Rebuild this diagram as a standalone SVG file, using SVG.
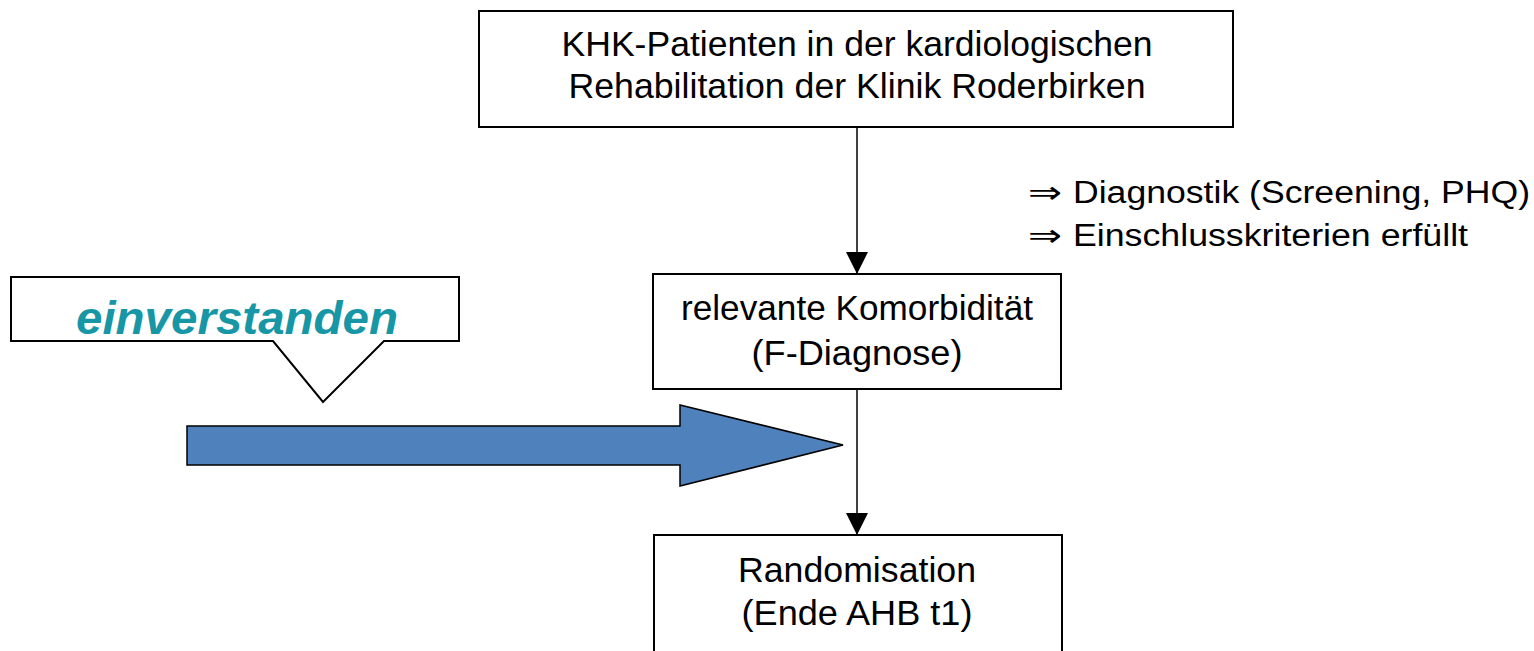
<svg xmlns="http://www.w3.org/2000/svg" width="1534" height="651" viewBox="0 0 1534 651">
<defs>
<style>
.box{fill:#fff;stroke:#000;stroke-width:2}
.t{font-family:"Liberation Sans",Arial,sans-serif;font-size:35px;fill:#000;text-anchor:middle}
.r{font-family:"Liberation Sans",Arial,sans-serif;font-size:31px;fill:#000}
.conn{stroke:#000;stroke-width:1.5;fill:none}
</style>
<marker id="ah" viewBox="0 0 22 24" refX="22" refY="12" markerWidth="22" markerHeight="24" markerUnits="userSpaceOnUse" orient="auto">
<path d="M0,1 L22,12 L0,23 Z" fill="#000"/>
</marker>
</defs>
<rect width="1534" height="651" fill="#fff"/>
<g id="connectors">
<line class="conn" x1="857" y1="127" x2="857" y2="274" marker-end="url(#ah)"/>
<line class="conn" x1="857" y1="389" x2="857" y2="535" marker-end="url(#ah)"/>
</g>
<g id="node-khk">
<rect class="box" x="479" y="11" width="754" height="116"/>
<text class="t" x="857" y="56" textLength="591" lengthAdjust="spacingAndGlyphs">KHK-Patienten in der kardiologischen</text>
<text class="t" x="857" y="98" textLength="577" lengthAdjust="spacingAndGlyphs">Rehabilitation der Klinik Roderbirken</text>
</g>
<g id="label-criteria">
<text class="r" x="1028" y="203" textLength="34" lengthAdjust="spacingAndGlyphs">⇒</text>
<text class="r" x="1073" y="203" textLength="457" lengthAdjust="spacingAndGlyphs">Diagnostik (Screening, PHQ)</text>
<text class="r" x="1028" y="246" textLength="34" lengthAdjust="spacingAndGlyphs">⇒</text>
<text class="r" x="1073" y="246" textLength="395" lengthAdjust="spacingAndGlyphs">Einschlusskriterien erfüllt</text>
</g>
<g id="node-komorb">
<rect class="box" x="653" y="274" width="408" height="115"/>
<text class="t" x="857" y="320" textLength="352" lengthAdjust="spacingAndGlyphs">relevante Komorbidität</text>
<text class="t" x="857" y="365" textLength="211" lengthAdjust="spacingAndGlyphs">(F-Diagnose)</text>
</g>
<g id="node-random">
<rect class="box" x="654" y="535" width="408" height="130"/>
<text class="t" x="857" y="582" textLength="238" lengthAdjust="spacingAndGlyphs">Randomisation</text>
<text class="t" x="857" y="625" textLength="231" lengthAdjust="spacingAndGlyphs">(Ende AHB t1)</text>
</g>
<g id="callout-einverstanden">
<path d="M11,277 L459,277 L459,341 L384,341 L323,402 L273,341 L11,341 Z" fill="#fff" stroke="#000" stroke-width="2"/>
<text x="237" y="334" font-family="Liberation Sans,Arial,sans-serif" font-size="47" font-weight="bold" font-style="italic" fill="#1796a5" text-anchor="middle" textLength="322" lengthAdjust="spacingAndGlyphs">einverstanden</text>
</g>
<g id="blue-arrow">
<path d="M187,426 L680,426 L680,405 L843,445 L680,486 L680,465 L187,465 Z" fill="#4f81bd" stroke="#000" stroke-width="1.5"/>
</g>
</svg>
